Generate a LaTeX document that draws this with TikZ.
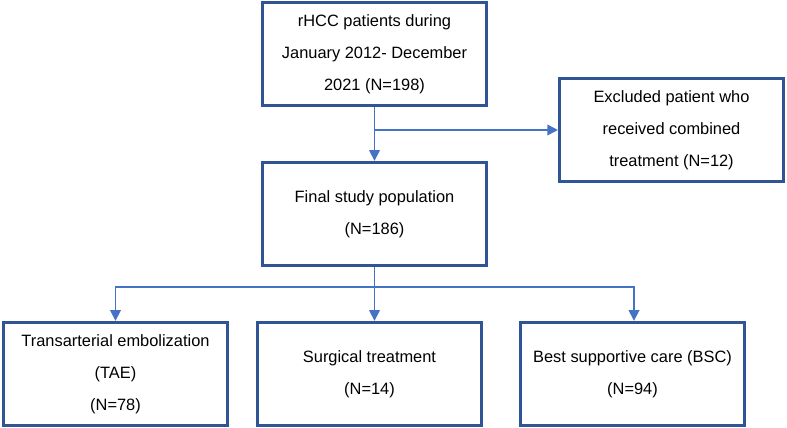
\documentclass[tikz,border=0pt]{standalone}
\usepackage{fontspec}
\setmainfont{Liberation Sans}
\usepackage{tikz}
\usetikzlibrary{arrows.meta,positioning,calc}
\usepackage{xcolor}
\definecolor{boxblue}{RGB}{47,85,151}
\definecolor{linkblue}{RGB}{68,114,196}

\begin{document}
\begin{tikzpicture}[
    x=0.03cm, y=-0.03cm,
    box/.style={draw=boxblue, line width=2.6pt, fill=white, minimum width=6.72cm,
                minimum height=3.1cm, align=center, inner sep=0pt,
                font=\fontsize{14}{27.5}\selectfont},
    link/.style={linkblue, line width=1.4pt},
    arrow/.style={link, -{Triangle[length=3.2mm, width=3.2mm]}}
]
\useasboundingbox (0,0) rectangle (787,428);

% Top part
\node[box] (rhcc) at (374.5, 54) {rHCC patients during\\January 2012- December\\2021 (N=198)};
\node[box] (excl) at (671.5, 130) {Excluded patient who\\received combined\\treatment (N=12)};
\node[box] (final) at (374.5, 214) {Final study population\\(N=186)};

\coordinate (split) at (374.5, 130);
\draw[arrow] (rhcc) -- (final);
\draw[arrow] (split) -- (excl);

% Treatment groups
\node[box] (tae) at (115.5, 374) {Transarterial embolization\\(TAE)\\(N=78)};
\node[box] (surg) at (369.5, 374) {Surgical treatment\\(N=14)};
\node[box] (bsc) at (632.5, 374) {Best supportive care (BSC)\\(N=94)};

\coordinate (bus) at (374.5, 287);
\draw[link] (final) -- (bus);
\draw[arrow] (bus) -| (tae);
\draw[arrow] (bus) -- (bus |- surg.north);
\draw[arrow] (bus) -| ($(bsc.north)+(1.5,0)$);

\end{tikzpicture}
\end{document}
